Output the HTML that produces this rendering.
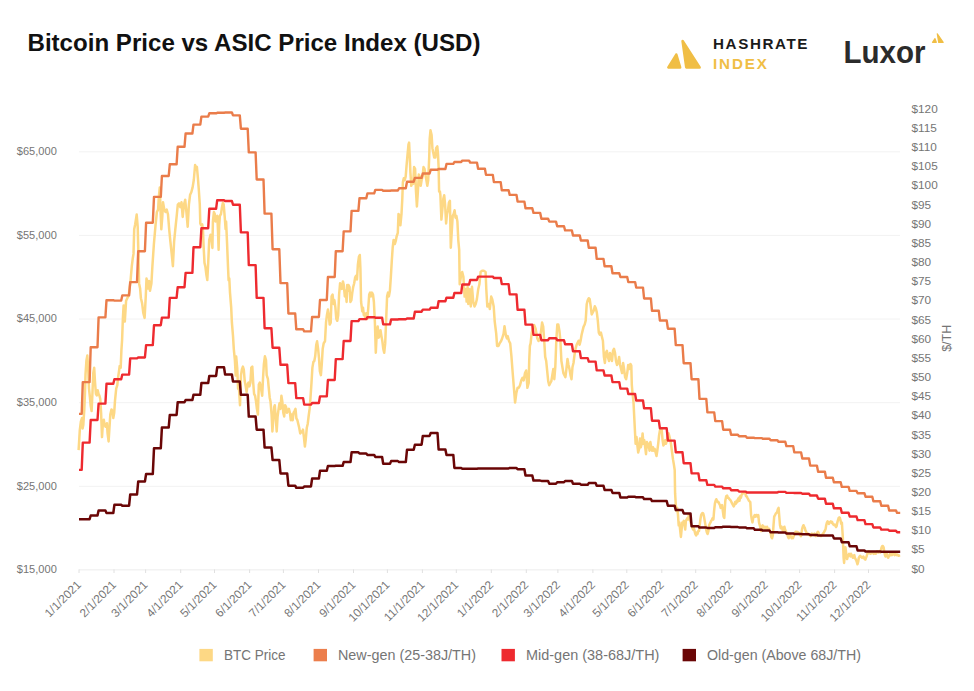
<!DOCTYPE html><html><head><meta charset="utf-8"><style>html,body{margin:0;padding:0;background:#fff;}svg{display:block;}text{font-family:"Liberation Sans",sans-serif;}</style></head><body>
<svg width="974" height="691" viewBox="0 0 974 691">
<text x="27.5" y="51.4" font-size="24" font-weight="bold" fill="#111" textLength="453" lengthAdjust="spacingAndGlyphs">Bitcoin Price vs ASIC Price Index (USD)</text>
<line x1="79" y1="569.9" x2="900" y2="569.9" stroke="#ececec" stroke-width="1"/>
<text x="56.8" y="573.1" font-size="11.8" fill="#757575" text-anchor="end" textLength="40" lengthAdjust="spacingAndGlyphs">$15,000</text>
<line x1="79" y1="486.3" x2="900" y2="486.3" stroke="#f2f2f2" stroke-width="1"/>
<text x="56.8" y="489.5" font-size="11.8" fill="#757575" text-anchor="end" textLength="40" lengthAdjust="spacingAndGlyphs">$25,000</text>
<line x1="79" y1="402.7" x2="900" y2="402.7" stroke="#f2f2f2" stroke-width="1"/>
<text x="56.8" y="405.9" font-size="11.8" fill="#757575" text-anchor="end" textLength="40" lengthAdjust="spacingAndGlyphs">$35,000</text>
<line x1="79" y1="319.0" x2="900" y2="319.0" stroke="#f2f2f2" stroke-width="1"/>
<text x="56.8" y="322.2" font-size="11.8" fill="#757575" text-anchor="end" textLength="40" lengthAdjust="spacingAndGlyphs">$45,000</text>
<line x1="79" y1="235.4" x2="900" y2="235.4" stroke="#f2f2f2" stroke-width="1"/>
<text x="56.8" y="238.6" font-size="11.8" fill="#757575" text-anchor="end" textLength="40" lengthAdjust="spacingAndGlyphs">$55,000</text>
<line x1="79" y1="151.8" x2="900" y2="151.8" stroke="#f2f2f2" stroke-width="1"/>
<text x="56.8" y="155.0" font-size="11.8" fill="#757575" text-anchor="end" textLength="40" lengthAdjust="spacingAndGlyphs">$65,000</text>
<text x="911.5" y="572.6" font-size="11.8" fill="#757575">$0</text>
<text x="911.5" y="553.4" font-size="11.8" fill="#757575">$5</text>
<text x="911.5" y="534.3" font-size="11.8" fill="#757575">$10</text>
<text x="911.5" y="515.1" font-size="11.8" fill="#757575">$15</text>
<text x="911.5" y="495.9" font-size="11.8" fill="#757575">$20</text>
<text x="911.5" y="476.8" font-size="11.8" fill="#757575">$25</text>
<text x="911.5" y="457.6" font-size="11.8" fill="#757575">$30</text>
<text x="911.5" y="438.5" font-size="11.8" fill="#757575">$35</text>
<text x="911.5" y="419.3" font-size="11.8" fill="#757575">$40</text>
<text x="911.5" y="400.1" font-size="11.8" fill="#757575">$45</text>
<text x="911.5" y="381.0" font-size="11.8" fill="#757575">$50</text>
<text x="911.5" y="361.8" font-size="11.8" fill="#757575">$55</text>
<text x="911.5" y="342.6" font-size="11.8" fill="#757575">$60</text>
<text x="911.5" y="323.5" font-size="11.8" fill="#757575">$65</text>
<text x="911.5" y="304.3" font-size="11.8" fill="#757575">$70</text>
<text x="911.5" y="285.2" font-size="11.8" fill="#757575">$75</text>
<text x="911.5" y="266.0" font-size="11.8" fill="#757575">$80</text>
<text x="911.5" y="246.8" font-size="11.8" fill="#757575">$85</text>
<text x="911.5" y="227.7" font-size="11.8" fill="#757575">$90</text>
<text x="911.5" y="208.5" font-size="11.8" fill="#757575">$95</text>
<text x="911.5" y="189.3" font-size="11.8" fill="#757575">$100</text>
<text x="911.5" y="170.2" font-size="11.8" fill="#757575">$105</text>
<text x="911.5" y="151.0" font-size="11.8" fill="#757575">$110</text>
<text x="911.5" y="131.9" font-size="11.8" fill="#757575">$115</text>
<text x="911.5" y="112.7" font-size="11.8" fill="#757575">$120</text>
<text transform="translate(950.6,338.3) rotate(-90)" font-size="12.5" fill="#757575" text-anchor="middle">$/TH</text>
<line x1="79.0" y1="569.4" x2="79.0" y2="573" stroke="#e0e0e0" stroke-width="1"/>
<text transform="translate(81.9,585.5) rotate(-45)" font-size="11.8" fill="#757575" text-anchor="end">1/1/2021</text>
<line x1="114.0" y1="569.4" x2="114.0" y2="573" stroke="#e0e0e0" stroke-width="1"/>
<text transform="translate(116.9,585.5) rotate(-45)" font-size="11.8" fill="#757575" text-anchor="end">2/1/2021</text>
<line x1="145.6" y1="569.4" x2="145.6" y2="573" stroke="#e0e0e0" stroke-width="1"/>
<text transform="translate(148.5,585.5) rotate(-45)" font-size="11.8" fill="#757575" text-anchor="end">3/1/2021</text>
<line x1="180.7" y1="569.4" x2="180.7" y2="573" stroke="#e0e0e0" stroke-width="1"/>
<text transform="translate(183.6,585.5) rotate(-45)" font-size="11.8" fill="#757575" text-anchor="end">4/1/2021</text>
<line x1="214.5" y1="569.4" x2="214.5" y2="573" stroke="#e0e0e0" stroke-width="1"/>
<text transform="translate(217.4,585.5) rotate(-45)" font-size="11.8" fill="#757575" text-anchor="end">5/1/2021</text>
<line x1="249.6" y1="569.4" x2="249.6" y2="573" stroke="#e0e0e0" stroke-width="1"/>
<text transform="translate(252.5,585.5) rotate(-45)" font-size="11.8" fill="#757575" text-anchor="end">6/1/2021</text>
<line x1="283.4" y1="569.4" x2="283.4" y2="573" stroke="#e0e0e0" stroke-width="1"/>
<text transform="translate(286.3,585.5) rotate(-45)" font-size="11.8" fill="#757575" text-anchor="end">7/1/2021</text>
<line x1="318.5" y1="569.4" x2="318.5" y2="573" stroke="#e0e0e0" stroke-width="1"/>
<text transform="translate(321.4,585.5) rotate(-45)" font-size="11.8" fill="#757575" text-anchor="end">8/1/2021</text>
<line x1="353.5" y1="569.4" x2="353.5" y2="573" stroke="#e0e0e0" stroke-width="1"/>
<text transform="translate(356.4,585.5) rotate(-45)" font-size="11.8" fill="#757575" text-anchor="end">9/1/2021</text>
<line x1="387.4" y1="569.4" x2="387.4" y2="573" stroke="#e0e0e0" stroke-width="1"/>
<text transform="translate(390.3,585.5) rotate(-45)" font-size="11.8" fill="#757575" text-anchor="end">10/1/2021</text>
<line x1="422.4" y1="569.4" x2="422.4" y2="573" stroke="#e0e0e0" stroke-width="1"/>
<text transform="translate(425.3,585.5) rotate(-45)" font-size="11.8" fill="#757575" text-anchor="end">11/1/2021</text>
<line x1="456.3" y1="569.4" x2="456.3" y2="573" stroke="#e0e0e0" stroke-width="1"/>
<text transform="translate(459.2,585.5) rotate(-45)" font-size="11.8" fill="#757575" text-anchor="end">12/1/2021</text>
<line x1="491.3" y1="569.4" x2="491.3" y2="573" stroke="#e0e0e0" stroke-width="1"/>
<text transform="translate(494.2,585.5) rotate(-45)" font-size="11.8" fill="#757575" text-anchor="end">1/1/2022</text>
<line x1="526.3" y1="569.4" x2="526.3" y2="573" stroke="#e0e0e0" stroke-width="1"/>
<text transform="translate(529.2,585.5) rotate(-45)" font-size="11.8" fill="#757575" text-anchor="end">2/1/2022</text>
<line x1="557.9" y1="569.4" x2="557.9" y2="573" stroke="#e0e0e0" stroke-width="1"/>
<text transform="translate(560.8,585.5) rotate(-45)" font-size="11.8" fill="#757575" text-anchor="end">3/1/2022</text>
<line x1="592.9" y1="569.4" x2="592.9" y2="573" stroke="#e0e0e0" stroke-width="1"/>
<text transform="translate(595.8,585.5) rotate(-45)" font-size="11.8" fill="#757575" text-anchor="end">4/1/2022</text>
<line x1="626.8" y1="569.4" x2="626.8" y2="573" stroke="#e0e0e0" stroke-width="1"/>
<text transform="translate(629.7,585.5) rotate(-45)" font-size="11.8" fill="#757575" text-anchor="end">5/1/2022</text>
<line x1="661.8" y1="569.4" x2="661.8" y2="573" stroke="#e0e0e0" stroke-width="1"/>
<text transform="translate(664.7,585.5) rotate(-45)" font-size="11.8" fill="#757575" text-anchor="end">6/1/2022</text>
<line x1="695.7" y1="569.4" x2="695.7" y2="573" stroke="#e0e0e0" stroke-width="1"/>
<text transform="translate(698.6,585.5) rotate(-45)" font-size="11.8" fill="#757575" text-anchor="end">7/1/2022</text>
<line x1="730.7" y1="569.4" x2="730.7" y2="573" stroke="#e0e0e0" stroke-width="1"/>
<text transform="translate(733.6,585.5) rotate(-45)" font-size="11.8" fill="#757575" text-anchor="end">8/1/2022</text>
<line x1="765.7" y1="569.4" x2="765.7" y2="573" stroke="#e0e0e0" stroke-width="1"/>
<text transform="translate(768.6,585.5) rotate(-45)" font-size="11.8" fill="#757575" text-anchor="end">9/1/2022</text>
<line x1="799.6" y1="569.4" x2="799.6" y2="573" stroke="#e0e0e0" stroke-width="1"/>
<text transform="translate(802.5,585.5) rotate(-45)" font-size="11.8" fill="#757575" text-anchor="end">10/1/2022</text>
<line x1="834.6" y1="569.4" x2="834.6" y2="573" stroke="#e0e0e0" stroke-width="1"/>
<text transform="translate(837.5,585.5) rotate(-45)" font-size="11.8" fill="#757575" text-anchor="end">11/1/2022</text>
<line x1="868.5" y1="569.4" x2="868.5" y2="573" stroke="#e0e0e0" stroke-width="1"/>
<text transform="translate(871.4,585.5) rotate(-45)" font-size="11.8" fill="#757575" text-anchor="end">12/1/2022</text>
<rect x="199.4" y="648.9" width="13.4" height="12.4" fill="#FDD885"/>
<text x="224" y="660.3" font-size="14.3" fill="#757575" textLength="61.5" lengthAdjust="spacingAndGlyphs">BTC Price</text>
<rect x="313.6" y="648.9" width="13.4" height="12.4" fill="#EC7E4C"/>
<text x="338" y="660.3" font-size="14.3" fill="#757575" textLength="138" lengthAdjust="spacingAndGlyphs">New-gen (25-38J/TH)</text>
<rect x="501.5" y="648.9" width="13.4" height="12.4" fill="#EE2A2F"/>
<text x="526" y="660.3" font-size="14.3" fill="#757575" textLength="133.4" lengthAdjust="spacingAndGlyphs">Mid-gen (38-68J/TH)</text>
<rect x="682.6" y="648.9" width="13.4" height="12.4" fill="#6A0606"/>
<text x="707" y="660.3" font-size="14.3" fill="#757575" textLength="154" lengthAdjust="spacingAndGlyphs">Old-gen (Above 68J/TH)</text>
<path d="M676.3,54.6 L668.4,67.4 L680.1,67.4 Z" fill="#F0BE45" stroke="#F0BE45" stroke-width="2.6" stroke-linejoin="round"/>
<path d="M682.6,41 L686.3,67.4 L699.6,67.4 Z" fill="#F0BE45" stroke="#F0BE45" stroke-width="2.6" stroke-linejoin="round"/>
<text x="713" y="49.4" font-size="15.2" font-weight="bold" fill="#1a1a1a" textLength="94.5" lengthAdjust="spacing">HASHRATE</text>
<text x="713" y="68.7" font-size="15.2" font-weight="bold" fill="#F0BE45" textLength="54" lengthAdjust="spacing">INDEX</text>
<text x="843.5" y="62.6" font-size="30.5" font-weight="bold" fill="#2b2b2b" textLength="82" lengthAdjust="spacingAndGlyphs">Luxor</text>
<path d="M935,38.6 L932.5,42.3 L936.3,42.3 Z M937.3,33.8 L938.7,42.3 L943.2,42.3 Z" fill="#F0BE45" stroke="#F0BE45" stroke-width="1.2" stroke-linejoin="round"/>
<path d="M78.6,450.1 L79.8,430.2 L80.9,421.5 L82.1,418.0 L82.6,428.4 L83.3,425.0 L84.3,409.4 L85.0,392.0 L85.5,374.7 L86.4,360.8 L87.3,355.6 L88.1,366.0 L89.0,388.6 L89.9,397.2 L90.7,405.9 L91.6,411.1 L92.5,392.0 L93.3,372.9 L94.2,367.8 L95.1,383.4 L95.9,393.8 L96.8,395.5 L97.7,390.3 L98.5,393.8 L99.4,395.5 L100.3,399.0 L101.1,412.8 L102.0,437.1 L102.9,423.2 L103.8,419.8 L104.6,425.0 L105.5,426.7 L106.9,423.2 L107.6,433.6 L108.6,441.4 L109.3,430.2 L110.3,414.6 L111.5,409.4 L112.4,411.1 L113.3,418.0 L114.2,412.8 L115.0,400.7 L116.2,388.6 L117.3,385.1 L118.0,378.1 L119.0,371.2 L119.7,366.0 L120.7,367.8 L121.4,350.4 L122.1,340.0 L122.9,317.9 L123.6,305.6 L124.8,321.6 L126.1,300.7 L127.3,298.2 L128.6,295.8 L130.3,283.4 L131.8,266.2 L132.7,258.8 L133.5,253.9 L134.2,229.3 L135.2,224.3 L136.7,214.5 L137.7,226.8 L138.4,253.9 L139.1,283.4 L140.1,288.4 L140.9,298.2 L142.1,303.1 L143.3,313.0 L144.6,317.9 L145.8,295.8 L146.5,278.5 L147.5,283.4 L148.2,288.4 L149.0,281.0 L150.0,290.8 L151.4,283.4 L152.4,266.2 L153.9,244.0 L155.6,224.3 L156.9,212.0 L158.1,209.6 L158.8,197.2 L159.8,187.4 L160.6,212.0 L161.3,229.3 L162.3,216.9 L163.0,202.2 L164.3,209.6 L165.5,212.0 L166.7,209.6 L168.0,214.5 L169.2,229.3 L170.4,241.6 L171.7,253.9 L172.9,266.2 L174.1,241.6 L175.3,229.3 L176.6,216.9 L177.8,204.6 L179.0,203.4 L180.3,207.1 L181.5,202.2 L182.7,216.9 L184.0,204.6 L185.2,199.7 L186.4,212.0 L187.7,226.8 L188.9,204.6 L190.1,194.8 L191.3,192.3 L192.6,187.4 L193.8,180.0 L195.1,165.1 L196.0,168.8 L196.9,166.9 L197.9,178.2 L198.8,189.5 L199.8,204.6 L200.3,223.4 L201.1,225.3 L202.2,224.3 L203.0,230.9 L203.5,244.1 L204.5,262.9 L205.4,266.7 L206.3,274.2 L207.3,280.1 L208.2,262.9 L209.2,240.3 L210.5,234.7 L211.6,240.3 L212.4,247.9 L212.9,221.5 L213.9,212.1 L214.8,214.0 L215.4,221.5 L216.1,217.8 L217.3,215.9 L218.0,230.9 L218.6,249.8 L219.2,225.3 L219.9,215.9 L221.0,214.0 L221.8,208.3 L222.9,202.7 L223.7,204.6 L224.8,217.8 L225.6,229.1 L226.1,221.5 L227.1,244.1 L228.0,266.7 L228.6,280.1 L229.3,278.5 L230.0,292.6 L231.2,307.6 L231.9,322.7 L233.0,335.9 L233.8,349.1 L234.9,360.4 L235.7,375.4 L236.2,356.6 L237.2,367.9 L238.1,388.6 L239.1,390.1 L240.0,405.2 L241.0,375.1 L241.9,369.5 L242.9,366.6 L243.8,369.5 L244.7,380.8 L245.7,386.4 L246.6,392.0 L247.6,384.5 L248.5,382.6 L249.4,386.4 L250.4,382.6 L251.3,367.6 L252.3,366.6 L253.2,382.6 L254.1,393.9 L255.1,395.8 L256.0,401.4 L256.9,408.9 L257.9,414.6 L258.8,384.5 L259.8,382.6 L260.7,386.4 L261.6,392.0 L262.2,395.8 L263.0,378.9 L263.9,363.8 L264.9,356.3 L266.0,360.1 L266.7,375.1 L267.9,378.9 L268.6,386.4 L269.7,397.7 L270.5,401.4 L271.6,414.6 L272.4,431.5 L273.5,416.5 L274.2,407.1 L274.8,405.2 L275.8,418.4 L276.7,431.5 L277.6,416.5 L278.6,408.9 L279.5,403.3 L280.4,408.9 L281.4,395.8 L282.3,401.4 L283.3,412.7 L284.2,416.5 L285.1,405.2 L286.1,407.1 L287.0,412.7 L288.0,410.8 L288.9,408.9 L289.9,412.7 L290.8,420.2 L291.7,414.6 L292.7,420.2 L293.6,412.7 L294.6,410.8 L295.5,408.9 L296.4,418.4 L297.4,420.2 L298.3,424.0 L299.2,427.7 L300.2,433.4 L301.1,431.5 L302.1,432.4 L303.0,429.6 L303.9,437.1 L304.9,446.5 L305.8,439.0 L306.8,427.7 L307.7,424.0 L308.6,416.5 L309.6,408.9 L310.5,397.7 L311.5,382.6 L312.4,367.6 L313.4,361.9 L314.3,361.0 L315.2,356.3 L316.2,345.0 L317.1,341.3 L318.1,348.8 L319.0,358.2 L319.9,371.4 L320.9,375.1 L321.8,363.8 L322.7,348.8 L323.7,343.2 L325.0,341.3 L326.0,322.7 L326.9,315.2 L327.9,309.6 L328.8,315.2 L329.7,324.6 L330.7,322.7 L331.6,296.4 L332.6,294.5 L333.5,303.9 L334.4,300.1 L335.4,307.7 L336.3,318.9 L337.3,320.8 L338.2,315.2 L339.1,294.5 L340.1,283.2 L341.0,285.1 L341.9,288.9 L342.9,281.4 L343.8,285.1 L344.8,296.4 L345.7,290.8 L346.6,302.0 L347.2,285.1 L348.0,290.8 L348.5,285.1 L349.5,287.0 L350.4,302.0 L351.4,300.1 L352.3,292.6 L353.2,287.0 L354.2,283.2 L355.1,277.6 L356.1,275.7 L357.0,279.5 L357.9,264.4 L358.9,256.9 L359.8,255.0 L360.4,268.2 L361.1,302.0 L362.3,311.4 L363.0,307.7 L363.8,315.2 L364.5,313.3 L365.4,318.9 L366.4,313.3 L367.3,318.9 L368.3,307.7 L369.2,294.5 L370.1,292.6 L371.1,296.4 L372.0,292.6 L373.0,294.5 L373.9,302.0 L374.9,322.7 L375.8,352.8 L376.7,334.0 L377.7,326.5 L378.6,337.7 L379.6,335.9 L380.5,330.2 L381.4,335.9 L382.4,341.5 L383.3,349.0 L384.2,352.8 L385.2,343.4 L386.1,320.8 L387.1,296.4 L388.0,292.6 L388.9,296.4 L389.9,290.8 L390.8,277.6 L391.8,260.7 L392.7,247.5 L393.6,240.0 L394.0,240.3 L394.8,244.1 L395.9,240.3 L396.6,236.5 L397.8,232.8 L398.5,214.0 L399.7,215.9 L400.4,225.3 L401.5,214.0 L402.3,198.9 L402.9,182.0 L403.8,178.3 L404.7,180.2 L405.7,176.4 L406.6,165.1 L407.6,153.8 L408.5,144.4 L409.1,142.6 L409.8,157.6 L410.4,172.6 L411.3,185.8 L412.3,180.2 L413.2,183.9 L414.1,167.0 L415.1,168.9 L416.0,191.4 L416.9,206.5 L417.9,191.4 L418.8,174.5 L419.8,176.4 L420.7,185.8 L421.6,180.2 L422.6,176.4 L423.5,167.0 L424.5,168.9 L425.4,174.5 L426.4,180.2 L427.3,185.8 L428.2,180.2 L429.2,157.6 L429.7,138.8 L430.5,130.3 L431.6,135.0 L432.4,148.2 L433.5,153.8 L434.2,157.6 L435.4,157.6 L436.1,148.2 L437.3,146.3 L438.0,153.8 L438.6,167.0 L439.1,191.4 L439.9,191.4 L440.4,195.2 L441.4,219.6 L442.3,210.2 L443.3,198.9 L444.2,195.2 L445.1,204.6 L446.1,223.4 L447.0,214.0 L448.0,210.2 L448.9,202.7 L449.9,200.8 L450.8,247.8 L451.7,232.8 L452.7,215.9 L453.6,214.0 L454.6,210.2 L455.5,217.7 L456.4,215.9 L457.4,221.5 L458.3,240.3 L459.2,249.9 L459.7,284.3 L460.9,276.9 L462.2,272.0 L463.4,276.9 L464.6,296.6 L465.9,289.3 L466.6,301.6 L467.6,286.8 L468.3,304.0 L469.6,289.3 L470.8,306.5 L472.0,286.8 L473.2,301.6 L474.5,306.5 L475.7,304.0 L476.9,299.1 L478.2,289.3 L479.4,284.3 L480.6,272.0 L481.9,270.8 L483.8,270.8 L485.6,272.0 L486.3,289.3 L487.3,306.5 L488.8,304.0 L489.8,309.0 L491.2,296.6 L492.2,299.1 L493.7,306.5 L494.7,321.3 L496.2,333.6 L497.1,345.9 L498.6,345.9 L499.6,343.4 L501.1,341.0 L502.1,338.5 L503.6,333.6 L504.5,326.2 L506.0,336.1 L507.0,338.5 L507.7,336.1 L509.0,341.0 L510.2,343.4 L511.4,355.8 L512.7,373.0 L513.9,387.8 L515.1,402.6 L516.4,392.7 L517.6,387.8 L518.8,387.8 L520.0,385.3 L521.3,380.4 L522.5,377.9 L523.7,380.4 L525.0,373.0 L526.2,370.5 L527.4,387.8 L528.7,382.9 L529.2,360.7 L529.9,345.9 L530.6,343.4 L531.6,333.6 L533.1,326.2 L534.1,325.0 L535.6,328.7 L537.3,338.5 L538.5,341.0 L540.0,338.5 L541.1,330.6 L542.1,322.5 L543.2,326.6 L544.2,340.7 L545.2,356.9 L546.2,361.0 L547.2,371.1 L548.2,381.2 L549.2,385.3 L550.2,383.2 L551.3,381.2 L552.3,375.1 L553.3,369.1 L554.3,379.2 L555.3,367.0 L556.3,340.7 L557.3,324.5 L558.3,324.5 L559.4,330.6 L560.4,340.7 L561.4,361.0 L562.4,367.0 L563.4,373.1 L564.4,375.1 L565.4,377.2 L566.4,369.1 L567.5,358.9 L568.5,365.0 L569.5,369.1 L570.5,375.1 L571.5,379.2 L572.5,367.0 L573.5,363.0 L574.5,354.9 L575.5,348.8 L576.6,344.8 L577.6,342.8 L578.6,340.7 L579.6,344.8 L580.6,340.7 L581.6,334.7 L582.6,330.6 L583.6,326.6 L584.7,324.5 L585.7,320.5 L586.7,304.3 L587.7,300.2 L588.7,298.2 L589.7,299.2 L590.7,306.3 L591.7,314.4 L592.8,312.4 L593.8,310.4 L594.8,306.3 L595.8,308.3 L596.8,312.4 L597.8,320.5 L598.8,332.6 L599.8,334.7 L600.9,332.6 L601.9,336.7 L602.9,340.7 L603.9,356.9 L604.9,363.0 L605.9,352.9 L606.9,350.9 L607.9,356.9 L609.0,361.0 L610.0,352.9 L611.0,356.9 L612.0,361.0 L613.0,350.9 L614.0,348.8 L615.0,352.9 L616.0,361.0 L617.0,365.0 L618.1,363.0 L619.1,356.9 L620.1,365.0 L621.1,369.1 L622.1,373.1 L623.1,363.0 L624.1,369.1 L625.1,377.2 L626.1,379.2 L627.2,373.1 L628.2,365.0 L629.2,369.1 L630.0,367.0 L630.4,363.9 L631.3,365.6 L631.8,384.7 L632.5,393.4 L633.5,402.1 L634.2,416.0 L634.8,428.2 L635.6,443.8 L636.5,436.9 L637.4,445.5 L638.2,452.5 L639.1,449.0 L640.0,438.6 L640.8,447.3 L641.7,443.8 L642.6,433.4 L643.5,443.8 L644.3,440.3 L645.2,447.3 L646.0,454.2 L646.9,442.1 L647.8,447.3 L648.7,443.8 L649.5,450.7 L650.4,442.1 L651.3,447.3 L652.1,450.7 L653.0,447.3 L653.9,450.7 L654.7,449.0 L655.6,452.5 L656.5,456.0 L657.3,450.7 L658.2,443.8 L659.1,435.1 L660.0,429.9 L660.8,431.6 L661.7,429.9 L662.6,440.3 L663.4,445.5 L664.3,443.8 L665.2,440.3 L666.0,443.8 L666.9,440.3 L667.8,435.1 L668.6,433.4 L669.5,436.9 L670.4,440.3 L671.2,445.5 L672.1,452.5 L673.0,459.4 L673.9,464.6 L674.7,470.0 L675.1,493.4 L675.8,505.0 L676.5,510.8 L677.2,507.9 L678.0,515.1 L678.7,525.3 L679.4,522.4 L680.1,529.6 L680.9,536.9 L681.6,529.6 L682.3,522.4 L683.0,523.8 L683.8,520.9 L684.5,525.3 L685.2,529.6 L685.9,520.9 L686.6,519.5 L687.4,518.0 L688.1,519.5 L688.8,515.1 L689.5,516.6 L690.3,520.9 L691.0,523.8 L691.7,525.3 L692.4,528.2 L693.2,529.6 L693.9,528.2 L694.6,531.1 L695.3,534.0 L696.1,535.4 L696.8,532.5 L697.5,534.0 L698.2,531.1 L699.0,531.1 L699.7,525.3 L700.4,519.5 L701.1,515.1 L701.9,513.7 L702.6,513.0 L703.3,513.7 L704.0,516.6 L704.7,520.9 L705.5,525.3 L706.2,529.6 L706.9,532.5 L707.6,534.0 L708.4,531.1 L709.1,525.3 L709.8,523.8 L710.5,522.4 L711.2,520.9 L712.0,519.5 L712.7,518.0 L713.4,519.5 L714.1,510.8 L714.9,503.6 L715.6,500.7 L716.3,499.2 L717.0,500.7 L717.8,502.1 L718.5,502.1 L719.2,503.6 L719.9,505.0 L720.7,507.9 L721.4,506.4 L722.1,505.0 L722.8,510.8 L723.6,516.6 L724.3,518.0 L724.7,510.8 L725.3,500.7 L726.2,496.3 L727.2,495.6 L727.9,497.8 L728.6,497.8 L729.4,499.2 L730.8,500.7 L732.2,503.6 L733.7,506.4 L734.4,505.0 L735.1,502.1 L735.9,503.6 L736.6,500.7 L737.3,502.1 L738.0,499.2 L738.8,497.8 L739.5,500.7 L740.2,496.3 L740.9,497.8 L741.6,494.9 L742.4,493.4 L743.1,493.4 L743.8,492.0 L744.5,492.0 L745.3,493.4 L746.0,496.3 L746.7,496.3 L747.4,497.8 L748.2,499.2 L748.9,500.7 L749.6,501.4 L750.3,502.1 L751.1,515.1 L751.8,519.5 L752.5,522.4 L753.2,518.0 L754.0,516.6 L754.7,515.1 L755.4,516.6 L756.1,515.1 L756.9,515.1 L757.6,516.6 L758.3,515.1 L759.0,522.4 L759.8,525.3 L760.5,528.2 L761.2,531.1 L761.9,526.7 L762.6,525.3 L763.4,526.7 L764.1,528.2 L764.8,526.7 L765.5,528.2 L766.3,528.2 L767.0,526.7 L767.7,528.2 L768.4,529.6 L769.2,528.9 L769.9,531.1 L770.6,532.5 L771.3,536.9 L772.0,538.3 L772.8,535.4 L773.5,525.3 L774.2,516.6 L775.0,515.1 L775.7,513.7 L777.1,512.2 L777.8,509.4 L778.6,507.9 L779.3,516.6 L780.0,525.3 L780.7,528.2 L781.5,526.7 L782.2,528.2 L782.9,531.1 L783.6,528.2 L784.4,526.7 L785.1,529.6 L785.8,531.1 L786.5,532.5 L787.2,534.0 L788.0,536.9 L788.7,538.3 L789.4,536.9 L790.0,535.4 L790.4,535.6 L791.1,536.9 L791.7,538.2 L792.4,536.9 L793.0,538.2 L793.7,536.2 L794.3,534.3 L795.0,533.0 L795.6,531.7 L796.3,532.4 L796.9,531.7 L797.6,533.0 L798.2,532.4 L798.9,533.0 L799.5,534.3 L800.2,535.0 L800.9,536.2 L801.5,533.0 L802.1,529.1 L802.8,526.5 L803.5,525.2 L804.1,526.5 L804.8,527.8 L805.4,530.4 L806.1,531.7 L806.7,533.0 L807.4,534.3 L808.0,533.6 L808.7,534.3 L809.3,535.0 L810.0,535.6 L810.6,536.2 L811.3,534.3 L811.9,533.6 L812.6,534.3 L813.2,535.0 L813.9,534.3 L814.5,533.6 L815.2,535.6 L815.8,536.2 L816.5,535.0 L817.1,533.0 L817.8,531.7 L818.4,532.4 L819.1,534.3 L819.7,535.0 L820.4,535.6 L821.0,536.2 L821.7,535.0 L822.4,534.3 L823.0,533.6 L823.6,533.0 L824.3,531.7 L825.0,530.4 L825.6,529.1 L826.2,525.2 L826.9,522.6 L827.6,521.3 L828.2,522.6 L828.9,523.9 L829.5,522.6 L830.2,521.9 L830.8,521.3 L831.5,522.6 L832.1,521.9 L832.8,523.9 L833.4,524.5 L834.1,525.2 L834.7,524.5 L835.4,525.8 L836.0,527.1 L836.7,525.8 L837.3,522.6 L838.0,520.0 L838.6,518.0 L839.3,517.4 L839.9,518.0 L840.6,520.6 L841.2,523.9 L841.9,522.6 L842.3,529.1 L842.8,536.9 L843.2,547.3 L843.6,557.8 L844.1,563.0 L844.5,557.8 L844.9,548.6 L845.4,547.3 L845.8,549.9 L846.5,556.5 L847.1,559.1 L847.8,556.5 L848.4,555.1 L849.1,553.8 L849.7,555.1 L850.4,556.5 L851.0,553.8 L851.7,555.1 L852.3,556.5 L853.0,557.8 L853.6,556.5 L854.3,555.1 L854.9,557.8 L855.6,559.1 L856.2,560.4 L856.9,562.3 L857.5,564.3 L858.2,561.7 L858.8,557.8 L859.5,556.5 L860.1,555.8 L860.8,556.5 L861.4,557.1 L862.1,557.8 L862.7,557.1 L863.4,556.5 L864.0,557.8 L864.7,559.1 L865.3,559.7 L866.0,557.8 L866.6,556.5 L867.3,553.8 L868.0,552.5 L868.6,551.2 L869.2,553.2 L869.9,552.5 L870.5,553.8 L871.2,552.5 L871.9,553.2 L872.5,552.5 L873.2,553.2 L873.8,553.8 L874.5,552.5 L875.1,553.2 L875.8,553.8 L876.4,552.5 L877.1,551.2 L877.7,551.9 L878.4,552.5 L879.0,551.9 L879.7,551.2 L880.3,552.5 L881.0,549.9 L881.6,547.3 L882.3,546.0 L882.9,546.0 L883.6,547.3 L884.2,551.2 L884.9,555.1 L885.5,556.5 L886.2,555.1 L886.8,553.8 L887.5,556.5 L888.1,557.8 L888.8,556.5 L889.5,555.1 L890.1,553.8 L890.8,555.1 L891.4,554.5 L892.0,555.1 L892.7,553.8 L893.4,552.5 L894.0,553.8 L894.7,555.1 L895.3,553.8 L896.0,554.5 L896.6,555.1 L897.3,554.5 L897.9,555.1 L898.6,555.8 L900.0,555.1" fill="none" stroke="#FDD885" stroke-width="2.5" stroke-linejoin="round"/>
<path d="M79.0,413.9 L81.7,413.9 L82.8,382.1 L89.6,382.1 L90.7,347.2 L97.5,347.2 L98.6,317.4 L105.4,317.4 L106.5,300.2 L113.3,300.2 L114.4,300.6 L121.2,300.6 L122.3,295.4 L129.1,295.4 L130.2,282.1 L137.0,282.1 L138.2,251.3 L144.9,251.3 L146.1,222.8 L152.8,222.8 L154.0,196.9 L160.8,196.9 L161.9,176.0 L168.7,176.0 L169.8,164.3 L176.6,164.3 L177.7,146.8 L184.5,146.8 L185.6,133.5 L192.4,133.5 L193.5,124.6 L200.3,124.6 L201.4,116.6 L208.2,116.6 L209.3,113.3 L216.1,113.3 L217.2,112.8 L224.0,112.8 L225.1,112.5 L231.9,112.5 L233.0,115.4 L239.8,115.4 L240.9,128.7 L247.7,128.7 L248.8,152.4 L255.6,152.4 L256.7,179.5 L263.5,179.5 L264.6,213.6 L271.4,213.6 L272.6,249.2 L279.3,249.2 L280.5,283.1 L287.2,283.1 L288.4,313.5 L295.2,313.5 L296.3,329.3 L303.1,329.3 L304.2,331.4 L311.0,331.4 L312.1,317.0 L318.9,317.0 L320.0,300.0 L326.8,300.0 L327.9,277.0 L334.7,277.0 L335.8,251.3 L342.6,251.3 L343.7,231.4 L350.5,231.4 L351.6,210.9 L358.4,210.9 L359.5,198.2 L366.3,198.2 L367.4,193.4 L374.2,193.4 L375.3,189.9 L382.1,189.9 L383.2,190.8 L390.0,190.8 L391.1,190.5 L397.9,190.5 L399.1,188.3 L405.8,188.3 L407.0,181.7 L413.7,181.7 L414.9,177.9 L421.6,177.9 L422.8,173.5 L429.6,173.5 L430.7,169.8 L437.5,169.8 L438.6,169.0 L445.4,169.0 L446.5,163.9 L453.3,163.9 L454.4,162.0 L461.2,162.0 L462.3,160.6 L469.1,160.6 L470.2,162.6 L477.0,162.6 L478.1,168.8 L484.9,168.8 L486.0,174.9 L492.8,174.9 L493.9,182.1 L500.7,182.1 L501.8,190.3 L508.6,190.3 L509.7,194.9 L516.5,194.9 L517.6,201.6 L524.4,201.6 L525.5,208.2 L532.3,208.2 L533.5,212.9 L540.2,212.9 L541.4,218.7 L548.1,218.7 L549.3,221.6 L556.0,221.6 L557.2,226.3 L564.0,226.3 L565.1,230.4 L571.9,230.4 L573.0,235.5 L579.8,235.5 L580.9,240.5 L587.7,240.5 L588.8,247.8 L595.6,247.8 L596.7,258.9 L603.5,258.9 L604.6,266.3 L611.4,266.3 L612.5,273.3 L619.3,273.3 L620.4,277.0 L627.2,277.0 L628.3,282.1 L635.1,282.1 L636.2,287.6 L643.0,287.6 L644.1,298.5 L650.9,298.5 L652.0,310.8 L658.8,310.8 L659.9,320.5 L666.7,320.5 L667.9,328.7 L674.6,328.7 L675.8,345.1 L682.5,345.1 L683.7,363.2 L690.5,363.2 L691.6,379.2 L698.4,379.2 L699.5,398.9 L706.3,398.9 L707.4,412.4 L714.2,412.4 L715.3,421.1 L722.1,421.1 L723.2,429.7 L730.0,429.7 L731.1,434.7 L737.9,434.7 L739.0,436.2 L745.8,436.2 L746.9,437.7 L753.7,437.7 L754.8,438.1 L761.6,438.1 L762.7,438.8 L769.5,438.8 L770.6,440.2 L777.4,440.2 L778.5,441.8 L785.3,441.8 L786.4,446.1 L793.2,446.1 L794.3,452.4 L801.1,452.4 L802.3,458.5 L809.0,458.5 L810.2,465.6 L816.9,465.6 L818.1,471.7 L824.9,471.7 L826.0,477.8 L832.8,477.8 L833.9,482.3 L840.7,482.3 L841.8,486.9 L848.6,486.9 L849.7,490.9 L856.5,490.9 L857.6,493.2 L864.4,493.2 L865.5,496.7 L872.3,496.7 L873.4,501.2 L880.2,501.2 L881.3,505.8 L888.1,505.8 L889.2,510.5 L896.0,510.5 L897.1,512.9 L900.2,512.9" fill="none" stroke="#EA7C4A" stroke-width="2.4" stroke-linejoin="round"/>
<path d="M79.0,469.9 L81.7,469.9 L82.8,442.6 L89.6,442.6 L90.7,420.0 L97.5,420.0 L98.6,403.6 L105.4,403.6 L106.5,383.7 L113.3,383.7 L114.4,379.2 L121.2,379.2 L122.3,374.6 L129.1,374.6 L130.2,358.4 L137.0,358.4 L138.2,357.5 L144.9,357.5 L146.1,345.1 L152.8,345.1 L154.0,325.2 L160.8,325.2 L161.9,317.6 L168.7,317.6 L169.8,297.9 L176.6,297.9 L177.7,287.2 L184.5,287.2 L185.6,272.9 L192.4,272.9 L193.5,247.2 L200.3,247.2 L201.4,228.3 L208.2,228.3 L209.3,208.8 L216.1,208.8 L217.2,200.2 L224.0,200.2 L225.1,201.0 L231.9,201.0 L233.0,204.7 L239.8,204.7 L240.9,232.4 L247.7,232.4 L248.8,265.1 L255.6,265.1 L256.7,297.9 L263.5,297.9 L264.6,328.3 L271.4,328.3 L272.6,347.8 L279.3,347.8 L280.5,364.8 L287.2,364.8 L288.4,383.1 L295.2,383.1 L296.3,398.1 L303.1,398.1 L304.2,404.6 L311.0,404.6 L312.1,403.0 L318.9,403.0 L320.0,396.4 L326.8,396.4 L327.9,380.0 L334.7,380.0 L335.8,359.1 L342.6,359.1 L343.7,341.0 L350.5,341.0 L351.6,321.1 L358.4,321.1 L359.5,319.1 L366.3,319.1 L367.4,317.2 L374.2,317.2 L375.3,317.7 L382.1,317.7 L383.2,324.4 L390.0,324.4 L391.1,319.5 L397.9,319.5 L399.1,319.2 L405.8,319.2 L407.0,318.5 L413.7,318.5 L414.9,311.7 L421.6,311.7 L422.8,309.6 L429.6,309.6 L430.7,307.8 L437.5,307.8 L438.6,301.2 L445.4,301.2 L446.5,297.7 L453.3,297.7 L454.4,293.0 L461.2,293.0 L462.3,284.5 L469.1,284.5 L470.2,280.0 L477.0,280.0 L478.1,276.6 L484.9,276.6 L486.0,276.6 L492.8,276.6 L493.9,278.0 L500.7,278.0 L501.8,284.1 L508.6,284.1 L509.7,294.4 L516.5,294.4 L517.6,309.8 L524.4,309.8 L525.5,324.6 L532.3,324.6 L533.5,334.9 L540.2,334.9 L541.4,340.2 L548.1,340.2 L549.3,338.2 L556.0,338.2 L557.2,340.2 L564.0,340.2 L565.1,344.3 L571.9,344.3 L573.0,351.3 L579.8,351.3 L580.9,358.1 L587.7,358.1 L588.8,361.6 L595.6,361.6 L596.7,370.4 L603.5,370.4 L604.6,375.5 L611.4,375.5 L612.5,382.1 L619.3,382.1 L620.4,388.6 L627.2,388.6 L628.3,394.0 L635.1,394.0 L636.2,400.5 L643.0,400.5 L644.1,408.3 L650.9,408.3 L652.0,420.7 L658.8,420.7 L659.9,428.3 L666.7,428.3 L667.9,440.6 L674.6,440.6 L675.8,452.3 L682.5,452.3 L683.7,463.2 L690.5,463.2 L691.6,473.4 L698.4,473.4 L699.5,480.2 L706.3,480.2 L707.4,484.9 L714.2,484.9 L715.3,486.6 L722.1,486.6 L723.2,488.2 L730.0,488.2 L731.1,490.2 L737.9,490.2 L739.0,491.6 L745.8,491.6 L746.9,492.5 L753.7,492.5 L754.8,492.5 L761.6,492.5 L762.7,492.5 L769.5,492.5 L770.6,492.5 L777.4,492.5 L778.5,491.9 L785.3,491.9 L786.4,492.9 L793.2,492.9 L794.3,493.0 L801.1,493.0 L802.3,493.7 L809.0,493.7 L810.2,495.5 L816.9,495.5 L818.1,498.7 L824.9,498.7 L826.0,503.8 L832.8,503.8 L833.9,508.3 L840.7,508.3 L841.8,512.8 L848.6,512.8 L849.7,516.5 L856.5,516.5 L857.6,520.1 L864.4,520.1 L865.5,524.1 L872.3,524.1 L873.4,527.5 L880.2,527.5 L881.3,529.6 L888.1,529.6 L889.2,530.8 L896.0,530.8 L897.1,532.2 L900.2,532.2" fill="none" stroke="#EE2A2F" stroke-width="2.4" stroke-linejoin="round"/>
<path d="M79.0,519.2 L81.7,519.2 L82.8,519.2 L89.6,519.2 L90.7,515.5 L97.5,515.5 L98.6,510.4 L105.4,510.4 L106.5,513.1 L113.3,513.1 L114.4,504.8 L121.2,504.8 L122.3,505.7 L129.1,505.7 L130.2,494.6 L137.0,494.6 L138.2,481.6 L144.9,481.6 L146.1,474.0 L152.8,474.0 L154.0,448.2 L160.8,448.2 L161.9,427.6 L168.7,427.6 L169.8,414.9 L176.6,414.9 L177.7,402.2 L184.5,402.2 L185.6,400.1 L192.4,400.1 L193.5,394.8 L200.3,394.8 L201.4,383.1 L208.2,383.1 L209.3,375.9 L216.1,375.9 L217.2,367.3 L224.0,367.3 L225.1,374.5 L231.9,374.5 L233.0,381.6 L239.8,381.6 L240.9,394.8 L247.7,394.8 L248.8,416.6 L255.6,416.6 L256.7,429.7 L263.5,429.7 L264.6,447.4 L271.4,447.4 L272.6,460.1 L279.3,460.1 L280.5,473.4 L287.2,473.4 L288.4,485.7 L295.2,485.7 L296.3,487.8 L303.1,487.8 L304.2,486.4 L311.0,486.4 L312.1,478.6 L318.9,478.6 L320.0,470.8 L326.8,470.8 L327.9,466.0 L334.7,466.0 L335.8,465.8 L342.6,465.8 L343.7,462.1 L350.5,462.1 L351.6,452.3 L358.4,452.3 L359.5,453.5 L366.3,453.5 L367.4,454.9 L374.2,454.9 L375.3,457.0 L382.1,457.0 L383.2,463.8 L390.0,463.8 L391.1,461.1 L397.9,461.1 L399.1,462.1 L405.8,462.1 L407.0,449.8 L413.7,449.8 L414.9,444.7 L421.6,444.7 L422.8,435.9 L429.6,435.9 L430.7,433.0 L437.5,433.0 L438.6,449.4 L445.4,449.4 L446.5,454.9 L453.3,454.9 L454.4,467.9 L461.2,467.9 L462.3,468.7 L469.1,468.7 L470.2,468.7 L477.0,468.7 L478.1,468.5 L484.9,468.5 L486.0,468.5 L492.8,468.5 L493.9,468.5 L500.7,468.5 L501.8,468.5 L508.6,468.5 L509.7,467.9 L516.5,467.9 L517.6,469.3 L524.4,469.3 L525.5,475.5 L532.3,475.5 L533.5,480.6 L540.2,480.6 L541.4,480.9 L548.1,480.9 L549.3,483.7 L556.0,483.7 L557.2,482.3 L564.0,482.3 L565.1,481.0 L571.9,481.0 L573.0,483.7 L579.8,483.7 L580.9,484.7 L587.7,484.7 L588.8,483.1 L595.6,483.1 L596.7,485.7 L603.5,485.7 L604.6,489.9 L611.4,489.9 L612.5,492.9 L619.3,492.9 L620.4,497.5 L627.2,497.5 L628.3,496.8 L635.1,496.8 L636.2,497.3 L643.0,497.3 L644.1,499.1 L650.9,499.1 L652.0,501.1 L658.8,501.1 L659.9,501.1 L666.7,501.1 L667.9,505.7 L674.6,505.7 L675.8,510.1 L682.5,510.1 L683.7,513.4 L690.5,513.4 L691.6,526.3 L698.4,526.3 L699.5,527.6 L706.3,527.6 L707.4,527.9 L714.2,527.9 L715.3,527.2 L722.1,527.2 L723.2,526.7 L730.0,526.7 L731.1,527.1 L737.9,527.1 L739.0,527.4 L745.8,527.4 L746.9,528.2 L753.7,528.2 L754.8,529.7 L761.6,529.7 L762.7,530.6 L769.5,530.6 L770.6,532.2 L777.4,532.2 L778.5,532.6 L785.3,532.6 L786.4,533.4 L793.2,533.4 L794.3,533.9 L801.1,533.9 L802.3,534.3 L809.0,534.3 L810.2,534.9 L816.9,534.9 L818.1,535.6 L824.9,535.6 L826.0,535.6 L832.8,535.6 L833.9,538.4 L840.7,538.4 L841.8,542.2 L848.6,542.2 L849.7,546.3 L856.5,546.3 L857.6,550.5 L864.4,550.5 L865.5,551.5 L872.3,551.5 L873.4,551.6 L880.2,551.6 L881.3,551.7 L888.1,551.7 L889.2,551.8 L896.0,551.8 L897.1,551.8 L900.2,551.8" fill="none" stroke="#6A0606" stroke-width="2.5" stroke-linejoin="round"/>
</svg></body></html>
